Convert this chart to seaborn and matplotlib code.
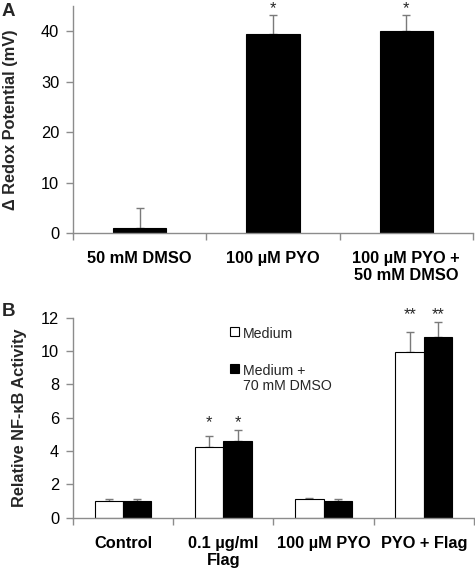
import numpy as np
import pandas as pd
import matplotlib
matplotlib.use("Agg")
import matplotlib.pyplot as plt
import seaborn as sns

# panel A - redox potential
redox_groups = ["50 mM DMSO", "100 µM PYO", "100 µM PYO +\n50 mM DMSO"]
redox_mean = [1.0, 39.5, 40.0]
redox_err = [4.0, 3.7, 3.2]
redox_stars = ["", "*", "*"]

# panel B - NF-kB activity
nfkb_groups = ["Control", "0.1 µg/ml\nFlag", "100 µM PYO", "PYO + Flag"]
conditions = ["Medium", "Medium +\n70 mM DMSO"]
nfkb_medium = [1.0, 4.22, 1.1, 9.92]
nfkb_medium_err = [0.14, 0.70, 0.10, 1.24]
nfkb_dmso = [1.0, 4.62, 1.0, 10.86]
nfkb_dmso_err = [0.10, 0.64, 0.10, 0.90]
nfkb_stars = ["", "*", "", "**"]

sns.set_theme(style="white")
plt.rcParams["font.family"] = ["Liberation Sans", "DejaVu Sans"]

GRAY = "#8c8c8c"
ERR = "#7a7a7a"
FS = 11.8


def style_axis(ax, groups, ymax, yticks):
    n = len(groups)
    sns.despine(ax=ax)
    for side in ("left", "bottom"):
        ax.spines[side].set_color(GRAY)
        ax.spines[side].set_linewidth(1)
    ax.set_xlim(-0.5, n - 0.5)
    ax.set_ylim(0, ymax)
    ax.set_xticks(range(n))
    ax.set_xticklabels(groups, fontweight="bold", fontsize=FS, linespacing=1.2)
    ax.set_xticks(np.arange(n + 1) - 0.5, minor=True)
    ax.tick_params(axis="x", which="major", length=0, pad=13, colors="black")
    ax.tick_params(axis="x", which="minor", bottom=True, length=5, width=1,
                   color=GRAY, direction="out")
    ax.set_yticks(yticks)
    ax.tick_params(axis="y", left=True, length=5, width=1, color=GRAY,
                   labelsize=FS, labelcolor="black", pad=5)
    ax.set_xlabel("")


fig = plt.figure(figsize=(4.75, 5.71), dpi=100)

# ---- A ----
ax_a = fig.add_axes([0.1537, 0.592, 0.842, 0.3975])
df_a = pd.DataFrame({"group": redox_groups, "value": redox_mean})
sns.barplot(data=df_a, x="group", y="value", color="black", width=0.4,
            edgecolor="black", linewidth=0.8, errorbar=None, saturation=1,
            ax=ax_a, zorder=2)
bars = ax_a.containers[0]
xs = [p.get_x() + p.get_width() / 2 for p in bars]
tops = [p.get_height() for p in bars]
ax_a.errorbar(xs, tops, yerr=[np.zeros(len(xs)), redox_err], fmt="none",
              ecolor=ERR, elinewidth=1, capsize=3, capthick=1, zorder=1)
for x, t, e, s in zip(xs, tops, redox_err, redox_stars):
    if s:
        ax_a.annotate(s, (x, t + e), xytext=(0, 1.5), textcoords="offset points",
                      ha="center", va="baseline", fontsize=FS,
                      annotation_clip=False)
style_axis(ax_a, redox_groups, 45, [0, 10, 20, 30, 40])
ax_a.set_ylabel("Δ Redox Potential (mV)", fontweight="bold", fontsize=FS)
ax_a.yaxis.set_label_coords(-0.1375, 0.5)

# ---- B ----
ax_b = fig.add_axes([0.1537, 0.0933, 0.844, 0.3503])
df_b = pd.DataFrame({
    "group": nfkb_groups * 2,
    "condition": [conditions[0]] * 4 + [conditions[1]] * 4,
    "value": nfkb_medium + nfkb_dmso,
})
sns.barplot(data=df_b, x="group", y="value", hue="condition",
            palette=["white", "black"], width=0.565, edgecolor="black",
            linewidth=0.8, errorbar=None, saturation=1, ax=ax_b, zorder=2)
tops_all = []
xs_all = []
for cont, errs in zip(ax_b.containers, [nfkb_medium_err, nfkb_dmso_err]):
    xs = [p.get_x() + p.get_width() / 2 for p in cont]
    tops = [p.get_height() for p in cont]
    ax_b.errorbar(xs, tops, yerr=[np.zeros(len(xs)), errs], fmt="none",
                  ecolor=ERR, elinewidth=1, capsize=3, capthick=1, zorder=1)
    xs_all.append(xs)
    tops_all.append([t + e for t, e in zip(tops, errs)])
for i, s in enumerate(nfkb_stars):
    if s:
        ymax = max(tops_all[0][i], tops_all[1][i])
        for xs in xs_all:
            ax_b.annotate(s, (xs[i], ymax), xytext=(0, 2),
                          textcoords="offset points", ha="center",
                          va="baseline", fontsize=FS, annotation_clip=False)
style_axis(ax_b, nfkb_groups, 12, [0, 2, 4, 6, 8, 10, 12])
ax_b.set_ylabel("Relative NF-κB Activity", fontweight="bold", fontsize=FS)
ax_b.yaxis.set_label_coords(-0.1147, 0.5)

handles, labels = ax_b.get_legend_handles_labels()
leg = ax_b.legend(handles, labels, loc="upper left",
                  bbox_to_anchor=(0.484, 0.427), bbox_transform=fig.transFigure,
                  frameon=False, fontsize=10.2, borderpad=0, borderaxespad=0,
                  handlelength=0.62, handleheight=0.62, handletextpad=0.3,
                  labelspacing=1.6)
for txt in leg.get_texts():
    txt.set_linespacing(1.1)
# square next to the first line of a two-line label, as in the original
for column in leg._legend_handle_box.get_children():
    for item in column.get_children():
        item.align = "top"

fig.text(0.004, 0.994, "A", fontsize=13.5, fontweight="bold", va="top")
fig.text(0.004, 0.469, "B", fontsize=13.5, fontweight="bold", va="top")

fig.savefig("out.png", dpi=100)
